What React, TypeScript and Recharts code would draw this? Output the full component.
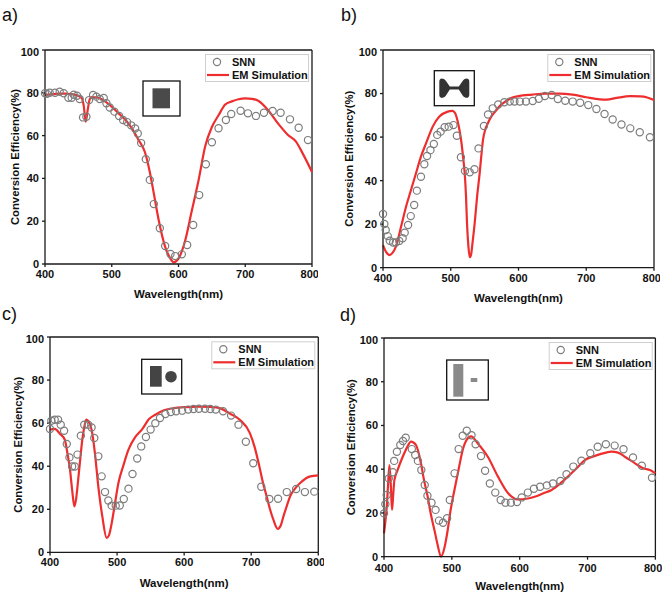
import React from 'react';
import { ComposedChart, Line, Scatter, XAxis, YAxis, ReferenceLine } from 'recharts';

const FONT = '"Liberation Sans", Arial, Helvetica, sans-serif';
const RED = '#ee2e2e';
const GREY = '#7d7d7d';

const xTicks = [400, 500, 600, 700, 800];
const yTicks = [0, 20, 40, 60, 80, 100];

// ---- panel a ----
const snnWlA = [400, 403, 407, 415, 422, 428, 435, 440, 443, 448, 452, 457, 462, 466, 472, 477, 482, 488, 492, 497, 504, 511, 517, 523, 529, 535, 539, 544, 551, 557, 563, 572, 580, 588, 595, 605, 613, 622, 631, 641, 650, 660, 671, 679, 693, 704, 716, 728, 741, 753, 767, 780, 794];
const snnValA = [79.8, 79.5, 80, 80, 80.5, 79.8, 77.7, 77.7, 79.1, 78.6, 77.1, 68.5, 68.8, 76.6, 79, 78.2, 77.1, 77.6, 75.1, 73.1, 71.2, 69.2, 67.3, 66.3, 64.8, 63.3, 61, 56.5, 49, 39.3, 28, 16.7, 8.4, 4.7, 3.7, 4.5, 8.9, 18.2, 32.2, 46.6, 56.9, 63.4, 67.3, 70.1, 71.6, 70.4, 69.2, 70.7, 71.5, 70.7, 67.6, 63.7, 57.9];
const emWlA = [400, 410, 420, 430, 440, 450, 455, 458, 461, 464, 467, 470, 480, 490, 500, 510, 520, 530, 540, 550, 557, 563, 570, 580, 587, 593, 600, 610, 620, 630, 640, 650, 660, 670, 680, 690, 700, 710, 720, 734, 749, 764, 776, 786, 800];
const emValA = [79, 79.3, 79.6, 79.6, 79.4, 78.6, 77.5, 74, 66.5, 72, 77, 78, 77.7, 76, 73.5, 70.5, 67.5, 63.5, 58, 52, 43, 33, 21, 8, 3, 0.8, 2.5, 11, 25, 39, 55, 64, 69.5, 74.5, 76, 77, 77.4, 77.2, 76.2, 72, 65.7, 60.3, 57.2, 51.7, 43];

// ---- panel b ----
const snnWlB = [400, 402, 404, 407, 410, 415, 419, 424, 429, 432, 437, 441, 446, 450, 456, 461, 465, 470, 475, 480, 485, 491, 497, 504, 509, 515, 521, 528, 535, 541, 549, 555, 562, 570, 579, 587, 594, 602, 611, 621, 630, 639, 649, 658, 669, 680, 691, 703, 715, 727, 739, 752, 765, 779, 794];
const snnValB = [24.7, 20.1, 17.3, 14.5, 12.4, 11.6, 11.6, 12.3, 13.5, 16.1, 19.6, 23.7, 28.8, 35.4, 41.8, 47.5, 51.3, 54, 56.8, 61, 62.5, 64.5, 64.8, 65.5, 60.6, 50.7, 44.4, 43.8, 45.2, 54.8, 65.1, 70.4, 73.2, 75, 76, 76.3, 76.3, 76.3, 76.3, 76.6, 77.6, 78.9, 79.3, 77.5, 76.7, 76.3, 75.8, 74.7, 72.9, 70.6, 68.1, 65.8, 64, 62.2, 59.9];
const emWlB = [400, 405, 409.4, 414, 419, 426.6, 434, 441.3, 448.7, 456, 463.5, 473.4, 483.2, 495.5, 502, 506, 510, 513, 516, 518.5, 520.6, 522.5, 524, 526, 528, 530, 532, 535.3, 539, 542.7, 545, 547.6, 551, 555, 560, 565, 575, 590, 600, 620, 640, 660, 680, 700, 720, 730, 745, 765, 780, 790, 800];
const emValB = [10.4, 7, 5.8, 6.8, 9.7, 18.8, 28, 35.7, 43.4, 51, 57.1, 64.8, 69.4, 71.7, 72, 71.2, 67.5, 63, 57, 50, 43.4, 33, 20.4, 10, 4.8, 6, 11, 20.4, 33, 43.4, 51, 58.7, 63.5, 66.5, 69.5, 71.5, 75, 78, 78.8, 79.5, 80, 80, 79.5, 78.3, 77.3, 77.2, 78, 78.8, 78.7, 78.2, 77];

// ---- panel c ----
const snnWlC = [400, 402, 407, 412, 416, 421, 425, 429, 433, 437, 441, 446, 451, 457, 462, 466, 472, 477, 482, 487, 492, 498, 504, 510, 517, 523, 530, 536, 543, 550, 557, 564, 572, 580, 588, 597, 606, 614, 622, 631, 639, 647, 658, 670, 681, 692, 703, 715, 727, 740, 753, 767, 780, 794];
const snnValC = [57.3, 61.1, 61.6, 61.6, 59.3, 56.5, 50.3, 44.1, 39.9, 39.9, 45.4, 54.2, 59.3, 59.3, 58, 53.1, 44.6, 35.3, 28, 24.1, 21.7, 21.7, 21.8, 24.8, 29.6, 36.4, 43.6, 49.2, 53.6, 57, 60, 62.4, 64.2, 65.2, 65.5, 65.8, 66.3, 66.6, 66.7, 66.7, 66.6, 66.3, 65.5, 63.5, 59.3, 51.4, 41.4, 30.5, 24.8, 24.9, 28, 29.4, 28, 28.2];
const emWlC = [400, 407, 415, 422, 426, 430, 433, 436.3, 439, 442, 445, 448, 451, 454, 457, 462, 467, 472, 478, 484.5, 488, 492, 497, 502, 510, 517, 527, 537, 548, 557, 570, 585, 600, 620, 640, 653, 668, 683, 698, 705, 711, 717, 723, 728, 733, 739.5, 744, 748, 753, 758, 765, 773, 788, 800];
const emValC = [57, 57.3, 55, 52.3, 46, 38, 29, 21.4, 25, 33.8, 43, 52, 58, 61.6, 61, 57, 46, 30.6, 16.7, 6.7, 8, 13.6, 23, 32.2, 41, 47.7, 53.5, 57, 62, 63.9, 66, 67, 67.4, 67.7, 67.5, 67, 64.5, 61.6, 55.4, 49, 41.5, 33, 26, 20, 15.2, 10.9, 12.5, 16.7, 21.5, 26, 29.5, 32.2, 35.3, 35.8];

// ---- panel d ----
const snnWlD = [400, 402, 404, 407, 413, 415, 419, 424, 428, 432, 441, 446, 450, 455, 460, 464, 470, 476, 481, 487, 493, 497, 504, 510, 516, 522, 529, 535, 543, 549, 556, 564, 572, 579, 587, 596, 603, 612, 621, 630, 640, 649, 660, 669, 679, 691, 704, 715, 727, 740, 753, 767, 780, 795];
const snnValD = [19.8, 24, 28.2, 35.8, 38.6, 43.8, 48, 51.1, 52.9, 54.4, 49.2, 46.5, 43.8, 39.6, 32.8, 27.9, 24.7, 21.4, 16.5, 15.5, 17.6, 25.9, 38.1, 49.2, 55.3, 57.6, 55.5, 51.4, 46, 39.3, 33.5, 29.3, 25.9, 24.7, 24.7, 25, 27.1, 29.3, 31.1, 32, 32.6, 33.5, 34.6, 37.7, 41.2, 43.9, 47.3, 50.3, 51.4, 50.8, 49.1, 45.4, 41.6, 36.1];
const emWlD = [400, 402, 404.4, 406, 408, 410, 411.8, 413.5, 415.3, 420, 427.6, 434, 439.8, 447, 454.5, 459, 464.4, 469, 474.3, 479, 484, 489, 493.9, 498, 503.8, 510, 516, 522, 528.5, 538, 553, 568, 583, 597, 610, 622, 635, 647, 660, 671, 684, 696, 710, 720, 735, 745, 755, 770, 782, 792, 800];
const emValD = [10.7, 16, 24.4, 33, 41.9, 33, 21.4, 28, 35, 39.6, 45.7, 50, 52.6, 51.1, 42.7, 35, 27.4, 19.5, 12.2, 5.5, 0, 4, 12.2, 21, 30.5, 40, 48.8, 53.5, 55, 51.9, 45.7, 36.6, 29, 26.2, 26.5, 27.4, 29, 30.5, 33.5, 36.6, 40.5, 44.2, 46, 47, 48, 47.6, 45.7, 42.7, 40.4, 39.6, 38.1];

const toRows = (wl: number[], val: number[]) => wl.map((w, i) => ({ wl: w, v: val[i] }));

type Geo = { x: number; y: number; w: number; h: number; yl: number; xl: number; tmx: number };

const YW = 45;
const MT = 4;
const MR = 6;
const XH = 40;

const axisStyle = { stroke: '#1a1a1a', strokeWidth: 1.3 };
const tickStyle = { fill: '#111', fontSize: 11, fontWeight: 700, fontFamily: FONT };

const SnnDot = (p: any) => (
  <circle cx={p.cx} cy={p.cy} r={3.6} fill="none" stroke={GREY} strokeWidth={1.2} />
);

function Panel({ g, snn, em }: { g: Geo; snn: any[]; em: any[] }) {
  const yc = MT + g.h / 2;
  const xlab = YW - g.yl;
  return (
    <div style={{ position: 'absolute', left: g.x - YW, top: g.y - MT }}>
      <ComposedChart
        width={YW + g.w + MR}
        height={MT + g.h + XH}
        margin={{ top: MT, right: MR, bottom: 0, left: 0 }}
      >
        <XAxis
          type="number"
          dataKey="wl"
          domain={[400, 800]}
          ticks={xTicks}
          height={XH}
          tickSize={3}
          tickMargin={g.tmx}
          axisLine={axisStyle}
          tickLine={axisStyle}
          tick={tickStyle}
          label={() => (
            <text
              x={YW + g.w / 2}
              y={MT + g.h + g.xl}
              textAnchor="middle"
              dominantBaseline="central"
              fontSize={11.5}
              fontWeight={700}
              fontFamily={FONT}
              fill="#111"
            >
              Wavelength(nm)
            </text>
          )}
        />
        <YAxis
          type="number"
          dataKey="v"
          domain={[0, 100]}
          ticks={yTicks}
          width={YW}
          tickSize={3}
          tickMargin={3}
          axisLine={axisStyle}
          tickLine={axisStyle}
          tick={tickStyle}
          label={() => (
            <text
              x={xlab}
              y={yc}
              transform={`rotate(-90, ${xlab}, ${yc})`}
              textAnchor="middle"
              dominantBaseline="central"
              fontSize={11.3}
              fontWeight={700}
              fontFamily={FONT}
              fill="#111"
            >
              Conversion Efficiency(%)
            </text>
          )}
        />
        <ReferenceLine y={100} stroke="#1a1a1a" strokeWidth={1.3} />
        <ReferenceLine x={800} stroke="#1a1a1a" strokeWidth={1.3} />
        <Scatter data={snn} dataKey="v" shape={SnnDot} isAnimationActive={false} />
        <Line
          data={em}
          dataKey="v"
          type="monotone"
          stroke={RED}
          strokeWidth={2.2}
          dot={false}
          activeDot={false}
          isAnimationActive={false}
        />
      </ComposedChart>
    </div>
  );
}

function LegendBox({ g }: { g: Geo }) {
  const x0 = g.x + g.w - 107;
  const y0 = g.y + 4;
  return (
    <g transform={`translate(${x0}, ${y0})`}>
      <rect x={0.5} y={0.5} width={103} height={27} fill="#fff" stroke="#cfcfcf" strokeWidth={1} />
      <circle cx={12} cy={8} r={3.6} fill="none" stroke={GREY} strokeWidth={1.2} />
      <text x={27} y={8} dominantBaseline="central" fontSize={11} fontWeight={700} fontFamily={FONT} fill="#111">
        SNN
      </text>
      <line x1={2} x2={24} y1={21} y2={21} stroke={RED} strokeWidth={2.2} />
      <text x={27} y={21} dominantBaseline="central" fontSize={11} fontWeight={700} fontFamily={FONT} fill="#111">
        EM Simulation
      </text>
    </g>
  );
}

const geoA: Geo = { x: 45, y: 50, w: 267, h: 214, yl: 30, xl: 30, tmx: 3 };
const geoB: Geo = { x: 383.3, y: 50, w: 271, h: 217.7, yl: 34, xl: 30.5, tmx: 4 };
const geoC: Geo = { x: 50, y: 337.3, w: 268.3, h: 215.4, yl: 31.7, xl: 30.6, tmx: 3 };
const geoD: Geo = { x: 384.3, y: 338, w: 271.4, h: 218.7, yl: 33, xl: 29.3, tmx: 5 };

const panelLabel = (x: number, y: number, s: string) => (
  <text x={x} y={y} fontSize={18} fontFamily={FONT} fill="#111">
    {s}
  </text>
);

export default function App() {
  return (
    <div
      style={{
        position: 'absolute',
        left: 0,
        top: 0,
        width: 669,
        height: 597,
        background: '#fff',
        fontFamily: FONT,
        overflow: 'hidden',
      }}
    >
      <Panel g={geoA} snn={toRows(snnWlA, snnValA)} em={toRows(emWlA, emValA)} />
      <Panel g={geoB} snn={toRows(snnWlB, snnValB)} em={toRows(emWlB, emValB)} />
      <Panel g={geoC} snn={toRows(snnWlC, snnValC)} em={toRows(emWlC, emValC)} />
      <Panel g={geoD} snn={toRows(snnWlD, snnValD)} em={toRows(emWlD, emValD)} />
      <svg
        width={669}
        height={597}
        style={{ position: 'absolute', left: 0, top: 0, pointerEvents: 'none' }}
      >
        {panelLabel(2, 21, 'a)')}
        {panelLabel(341, 21, 'b)')}
        {panelLabel(2, 320, 'c)')}
        {panelLabel(340, 321, 'd)')}

        <LegendBox g={geoA} />
        <LegendBox g={geoB} />
        <LegendBox g={geoC} />
        <LegendBox g={geoD} />

        {/* inset a: square */}
        <rect x={143} y={81} width={37} height={35} fill="#fff" stroke="#111" strokeWidth={1.3} />
        <rect x={152.5} y={88.3} width={17.5} height={20} fill="#4a4a4a" />

        {/* inset b: dumbbell */}
        <g transform="translate(434.3, 70.7)">
          <rect x={0} y={0} width={40} height={35} fill="#fff" stroke="#111" strokeWidth={1.3} />
          <path
            d="M5,11 C5,7 9,7 11.5,10 L15.5,15.8 L24.5,15.8 L28.5,10 C31,7 35,7 35,11 L35,24 C35,28 31,28 28.5,25 L24.5,18.8 L15.5,18.8 L11.5,25 C9,28 5,28 5,24 Z"
            fill="#333"
          />
        </g>

        {/* inset c: bar + disc */}
        <g transform="translate(141.7, 359.3)">
          <rect x={0} y={0} width={40} height={34.7} fill="#fff" stroke="#111" strokeWidth={1.3} />
          <rect x={8.3} y={6.7} width={11.7} height={20.7} fill="#444" />
          <circle cx={29.3} cy={17.4} r={5.8} fill="#444" />
        </g>

        {/* inset d: tall bar + small bar */}
        <g transform="translate(446.7, 360)">
          <rect x={0} y={0} width={41.6} height={40} fill="#fff" stroke="#111" strokeWidth={1.3} />
          <rect x={6.6} y={4} width={10} height={32.7} fill="#8a8a8a" />
          <rect x={24} y={18} width={6.6} height={4} fill="#8a8a8a" />
        </g>
      </svg>
    </div>
  );
}
